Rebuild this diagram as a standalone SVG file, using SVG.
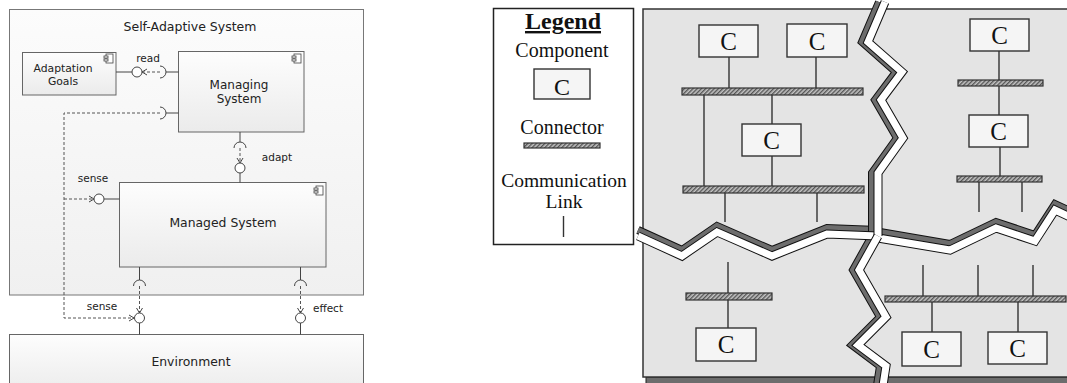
<svg xmlns="http://www.w3.org/2000/svg" width="1067" height="383" viewBox="0 0 1067 383">
<defs>
<linearGradient id="gbox" x1="0" y1="0" x2="0" y2="1"><stop offset="0" stop-color="#fdfdfd"/><stop offset="1" stop-color="#ebebeb"/></linearGradient>
<linearGradient id="gsys" x1="0" y1="0" x2="0" y2="1"><stop offset="0" stop-color="#fcfcfc"/><stop offset="1" stop-color="#f0f0f0"/></linearGradient>
<pattern id="hatch" width="3" height="3" patternUnits="userSpaceOnUse" patternTransform="rotate(45)"><rect width="3" height="3" fill="#c4c4c4"/><rect width="1.4" height="3" fill="#555"/></pattern>
<marker id="arr" markerWidth="8" markerHeight="8" refX="6" refY="4" orient="auto" markerUnits="userSpaceOnUse"><path d="M1,1 L6,4 L1,7" fill="none" stroke="#444" stroke-width="1"/></marker>
</defs>
<style>
.sys{fill:url(#gsys);stroke:#777;stroke-width:1}
.box{fill:url(#gbox);stroke:#666;stroke-width:1}
.ico{fill:#fff;stroke:#444;stroke-width:0.8}
.t{font-family:"DejaVu Sans",Verdana,sans-serif;fill:#222;text-anchor:middle}
.lbl{font-size:10.5px}
.ln{stroke:#444;stroke-width:1;fill:none}
.dash{stroke:#555;stroke-width:1;fill:none;stroke-dasharray:3 2}
.ball{fill:#fff;stroke:#444;stroke-width:1}
.s{font-family:"Liberation Serif","Times New Roman",serif;fill:#111;text-anchor:middle}
.panel{fill:#e4e4e4;stroke:#333;stroke-width:1.5}
.comp{fill:#f5f5f5;stroke:#333;stroke-width:1.4}
.bus{fill:url(#hatch);stroke:#333;stroke-width:1.2}
.link{stroke:#333;stroke-width:1.4;fill:none}
.ctext{font-size:25px}
.shO{fill:none;stroke:#111;stroke-width:8;stroke-linejoin:miter}
.sh{fill:none;stroke:#6d6d6d;stroke-width:6;stroke-linejoin:miter}
.crO{fill:none;stroke:#111;stroke-width:9;stroke-linejoin:miter}
.cr{fill:none;stroke:#fff;stroke-width:7;stroke-linejoin:miter}
</style>

<!-- Left diagram -->
<g id="self-adaptive-system">
<rect class="sys" x="9.5" y="9.5" width="354" height="285.5"/>
<text class="t" x="190" y="31" font-size="12.5px">Self-Adaptive System</text>
</g>
<g id="adaptation-goals">
<rect class="box" x="22.5" y="52.5" width="93.5" height="42.5"/>
<rect class="ico" x="106" y="54" width="7" height="9"/><rect class="ico" x="104" y="56" width="4" height="2"/><rect class="ico" x="104" y="59" width="4" height="2"/>
<text class="t" x="63" y="72" font-size="10.8px">Adaptation</text>
<text class="t" x="63" y="85" font-size="10.8px">Goals</text>
</g>
<g id="managing-system">
<rect class="box" x="178.5" y="51.5" width="125.5" height="80.5"/>
<rect class="ico" x="294" y="54" width="7" height="9"/><rect class="ico" x="292" y="56" width="4" height="2"/><rect class="ico" x="292" y="59" width="4" height="2"/>
<text class="t" x="239" y="89" font-size="12px">Managing</text>
<text class="t" x="239" y="103" font-size="12px">System</text>
</g>
<g id="managed-system">
<rect class="box" x="119.5" y="182.5" width="206.5" height="84.5"/>
<rect class="ico" x="316" y="186" width="7" height="9"/><rect class="ico" x="314" y="188" width="4" height="2"/><rect class="ico" x="314" y="191" width="4" height="2"/>
<text class="t" x="223" y="227" font-size="12.4px">Managed System</text>
</g>
<g id="environment">
<rect class="box" x="9.5" y="334.5" width="354" height="60"/>
<text class="t" x="191" y="366" font-size="12.4px">Environment</text>
</g>

<g id="connectors">
<line class="ln" x1="116" y1="72" x2="132" y2="72"/>
<circle class="ball" cx="137" cy="72" r="5"/>
<path class="ln" d="M160,66 A6,6 0 0 1 160,78"/>
<line class="ln" x1="166" y1="72" x2="178.5" y2="72"/>
<line class="dash" x1="160" y1="72" x2="142" y2="72" marker-end="url(#arr)"/>
<text class="t lbl" x="148" y="62">read</text>
<path class="ln" d="M160,107 A6,6 0 0 1 160,119"/>
<line class="ln" x1="166" y1="113" x2="178.5" y2="113"/>
<polyline class="dash" points="160,113 64,113 64,318 134,318" marker-end="url(#arr)"/>
<line class="dash" x1="64" y1="199" x2="94" y2="199" marker-end="url(#arr)"/>
<circle class="ball" cx="99" cy="199" r="5"/>
<line class="ln" x1="104" y1="199" x2="119.5" y2="199"/>
<text class="t lbl" x="93" y="182">sense</text>
<line class="ln" x1="240" y1="132" x2="240" y2="142"/>
<path class="ln" d="M234,148 A6,6 0 0 1 246,148"/>
<line class="dash" x1="240" y1="148" x2="240" y2="163" marker-end="url(#arr)"/>
<circle class="ball" cx="240" cy="168" r="5"/>
<line class="ln" x1="240" y1="173" x2="240" y2="182.5"/>
<text class="t lbl" x="277" y="161">adapt</text>
<line class="ln" x1="139.5" y1="267" x2="139.5" y2="280"/>
<path class="ln" d="M133.5,286 A6,6 0 0 1 145.5,286"/>
<line class="dash" x1="139.5" y1="286" x2="139.5" y2="313" marker-end="url(#arr)"/>
<circle class="ball" cx="139.5" cy="318" r="5"/>
<line class="ln" x1="139.5" y1="323" x2="139.5" y2="334.5"/>
<text class="t lbl" x="102" y="310">sense</text>
<line class="ln" x1="300.5" y1="267" x2="300.5" y2="280"/>
<path class="ln" d="M294.5,286 A6,6 0 0 1 306.5,286"/>
<line class="dash" x1="300.5" y1="286" x2="300.5" y2="313" marker-end="url(#arr)"/>
<circle class="ball" cx="300.5" cy="318" r="5"/>
<line class="ln" x1="300.5" y1="323" x2="300.5" y2="334.5"/>
<text class="t lbl" x="328" y="312">effect</text>
</g>

<g id="legend">
<rect x="493.5" y="8.5" width="140" height="236" fill="#fff" stroke="#222" stroke-width="1.5"/>
<text class="s" x="563" y="29" font-size="24px" font-weight="bold" text-decoration="underline">Legend</text>
<text class="s" x="562" y="57" font-size="20px">Component</text>
<rect class="comp" x="534" y="69" width="56" height="30"/>
<text class="s" x="562" y="95" font-size="24px">C</text>
<text class="s" x="562" y="134" font-size="20px">Connector</text>
<rect class="bus" x="524" y="143" width="76" height="5"/>
<text class="s" x="564" y="187" font-size="19.5px">Communication</text>
<text class="s" x="564" y="208" font-size="19.5px">Link</text>
<line class="link" x1="563.5" y1="216" x2="563.5" y2="237"/>
</g>

<g id="panel">
<rect x="646" y="377" width="430" height="8" fill="#6d6d6d" stroke="#222" stroke-width="1"/>
<rect class="panel" x="643" y="9" width="432" height="368"/>
</g>
<g id="cracks">
<polyline class="shO" points="638,230 682,250 717,226 772,250 827,228 878,230"/>
<polyline class="sh" points="638,230 682,250 717,226 772,250 827,228 878,230"/>
<polyline class="shO" points="880,232 950,244 996,222 1035,235 1055,204 1072,212"/>
<polyline class="sh" points="880,232 950,244 996,222 1035,235 1055,204 1072,212"/>
<polyline class="shO" points="879,2 862,42 896,72 875,100 897,138 872,173 872,236"/>
<polyline class="sh" points="879,2 862,42 896,72 875,100 897,138 872,173 872,236"/>
<polyline class="shO" points="872,236 853,270 880,317 852,345 880,366 876,392"/>
<polyline class="sh" points="872,236 853,270 880,317 852,345 880,366 876,392"/>
<polyline class="crO" points="638,236 682,256 717,232 772,256 827,234 878,236"/>
<polyline class="cr" points="638,236 682,256 717,232 772,256 827,234 878,236"/>
<polyline class="crO" points="878,238 950,250 996,228 1035,241 1055,210 1072,218"/>
<polyline class="cr" points="878,238 950,250 996,228 1035,241 1055,210 1072,218"/>
<polyline class="crO" points="885,2 868,42 902,72 881,100 903,138 878,173 878,236"/>
<polyline class="cr" points="885,2 868,42 902,72 881,100 903,138 878,173 878,236"/>
<polyline class="crO" points="878,236 859,270 886,317 858,345 886,366 882,392"/>
<polyline class="cr" points="878,236 859,270 886,317 858,345 886,366 882,392"/>
</g>

<g id="links">
<line class="link" x1="729" y1="57" x2="729" y2="88"/>
<line class="link" x1="816" y1="57" x2="816" y2="88"/>
<line class="link" x1="704" y1="95" x2="704" y2="186"/>
<line class="link" x1="772" y1="95" x2="772" y2="124"/>
<line class="link" x1="772" y1="156" x2="772" y2="186"/>
<line class="link" x1="725" y1="193" x2="725" y2="222"/>
<line class="link" x1="817" y1="193" x2="817" y2="222"/>
<line class="link" x1="999" y1="51" x2="999" y2="80"/>
<line class="link" x1="999" y1="86" x2="999" y2="115"/>
<line class="link" x1="1000" y1="147" x2="1000" y2="176"/>
<line class="link" x1="979" y1="182" x2="979" y2="212"/>
<line class="link" x1="1022" y1="182" x2="1022" y2="212"/>
<line class="link" x1="728" y1="262" x2="728" y2="293"/>
<line class="link" x1="728" y1="300" x2="728" y2="328"/>
<line class="link" x1="923" y1="265" x2="923" y2="296"/>
<line class="link" x1="978" y1="265" x2="978" y2="296"/>
<line class="link" x1="1033" y1="265" x2="1033" y2="296"/>
<line class="link" x1="932" y1="302" x2="932" y2="332"/>
<line class="link" x1="1018" y1="302" x2="1018" y2="332"/>
</g>

<g id="bus1"><rect class="bus" x="682" y="88" width="181" height="7"/></g>
<g id="bus2"><rect class="bus" x="683" y="186" width="181" height="7"/></g>
<g id="bus3"><rect class="bus" x="958" y="80" width="85" height="6"/></g>
<g id="bus4"><rect class="bus" x="957" y="176" width="85" height="6"/></g>
<g id="bus5"><rect class="bus" x="686" y="293" width="86" height="7"/></g>
<g id="bus6"><rect class="bus" x="885" y="296" width="181" height="6"/></g>

<g id="c1"><rect class="comp" x="699" y="25" width="59" height="32"/><text class="s ctext" x="728.5" y="50">C</text></g>
<g id="c2"><rect class="comp" x="787" y="24" width="60" height="33"/><text class="s ctext" x="817" y="50">C</text></g>
<g id="c3"><rect class="comp" x="742" y="124" width="59" height="32"/><text class="s ctext" x="771.5" y="149">C</text></g>
<g id="c4"><rect class="comp" x="970" y="19" width="59" height="32"/><text class="s ctext" x="999.5" y="44">C</text></g>
<g id="c5"><rect class="comp" x="969" y="115" width="59" height="32"/><text class="s ctext" x="998.5" y="140">C</text></g>
<g id="c6"><rect class="comp" x="696" y="328" width="60" height="33"/><text class="s ctext" x="726" y="353">C</text></g>
<g id="c7"><rect class="comp" x="902" y="332" width="59" height="34"/><text class="s ctext" x="931.5" y="358">C</text></g>
<g id="c8"><rect class="comp" x="988" y="332" width="59" height="32"/><text class="s ctext" x="1017.5" y="357">C</text></g>
</svg>
